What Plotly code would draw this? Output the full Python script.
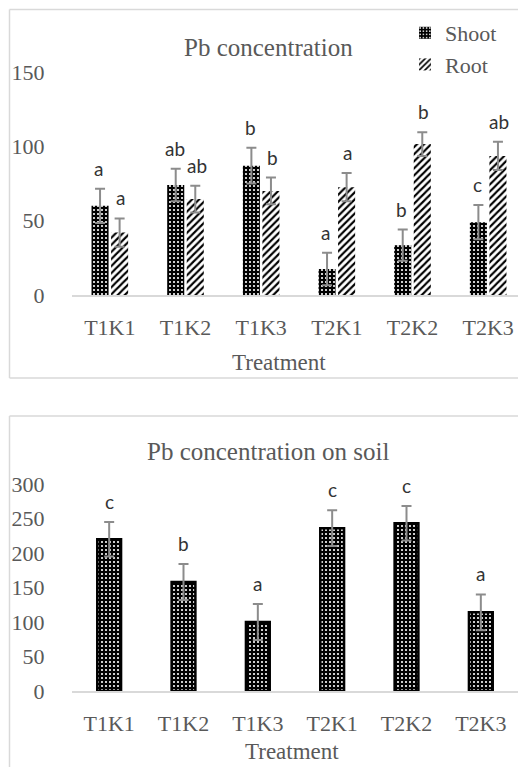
import plotly.graph_objects as go

categories = ["T1K1", "T1K2", "T1K3", "T2K1", "T2K2", "T2K3"]
shoot = [60, 74, 87, 17.5, 33.5, 49]
shoot_err = [11.5, 11, 12, 11, 10.5, 11.5]
shoot_letters = ["a", "ab", "b", "a", "b", "c"]
root = [42, 64.5, 70, 72.5, 101.5, 93.5]
root_err = [9.5, 9, 9, 9.5, 8, 9.5]
root_letters = ["a", "ab", "b", "a", "b", "ab"]

soil = [220, 158, 100, 236, 243, 114]
soil_err = [25, 26, 26, 26, 25, 26]
soil_letters = ["c", "b", "a", "c", "c", "a"]

OFF = 8
W, H = 526 - OFF, 767 - OFF
SERIF = "Liberation Serif"
SANS = "Lato"
TXT = "#595959"
ERR = "#8c8c8c"
BORDER = "#d9d9d9"

def px(x):
    return (x - OFF) / W

def py(y):
    return 1 - (y - OFF) / H

fig = go.Figure()

fig.add_trace(go.Bar(
    x=categories, y=shoot, name="Shoot", xaxis="x", yaxis="y", offsetgroup="s",
    marker=dict(color="black", line=dict(width=0),
                pattern=dict(shape=".", fgcolor="white", bgcolor="black", size=4, solidity=0.22)),
    error_y=dict(type="data", array=shoot_err, color=ERR, thickness=2, width=5),
))
fig.add_trace(go.Bar(
    x=categories, y=root, name="Root", xaxis="x", yaxis="y", offsetgroup="r",
    marker=dict(color="white", line=dict(width=0),
                pattern=dict(shape="/", fgcolor="black", bgcolor="white", size=5, solidity=0.42)),
    error_y=dict(type="data", array=root_err, color=ERR, thickness=2, width=5),
))
fig.add_trace(go.Bar(
    x=categories, y=soil, name="Soil", xaxis="x2", yaxis="y2", showlegend=False, width=0.32,
    marker=dict(color="black", line=dict(width=2.5, color="black"),
                pattern=dict(shape=".", fgcolor="white", bgcolor="black", size=4, solidity=0.22)),
    error_y=dict(type="data", array=soil_err, color=ERR, thickness=2, width=5),
))

LET = dict(family=SANS, size=19, color="#333333")
annotations = []
for i, c in enumerate(categories):
    annotations.append(dict(x=c, y=shoot[i] + shoot_err[i], xref="x", yref="y", text=shoot_letters[i],
                            showarrow=False, xshift=-11, xanchor="center", yanchor="bottom", yshift=7, font=LET))
    annotations.append(dict(x=c, y=root[i] + root_err[i], xref="x", yref="y", text=root_letters[i],
                            showarrow=False, xshift=11, xanchor="center", yanchor="bottom", yshift=7, font=LET))
    annotations.append(dict(x=c, y=soil[i] + soil_err[i], xref="x2", yref="y2", text=soil_letters[i],
                            showarrow=False, xanchor="center", yanchor="bottom", yshift=7, font=LET))

def lab(x, y, text, size):
    return dict(x=px(x), y=py(y), xref="paper", yref="paper", text=text, showarrow=False,
                xanchor="center", yanchor="middle", font=dict(family=SERIF, size=size, color=TXT))

annotations += [
    lab(268, 47, "Pb concentration", 25),
    lab(279, 362, "Treatment", 23),
    lab(268, 452, "Pb concentration on soil", 25),
    lab(292, 751, "Treatment", 23),
]

def seg(x0, y0, x1, y1):
    return dict(type="line", xref="paper", yref="paper", x0=px(x0), y0=py(y0), x1=px(x1), y1=py(y1),
                line=dict(color=BORDER, width=1.5))

shapes = [
    seg(9.5, 9.5, 540, 9.5), seg(9.5, 9.5, 9.5, 378), seg(9.5, 378, 540, 378),
    seg(9.5, 416, 540, 416), seg(9.5, 416, 9.5, 800),
]

xcommon = dict(showgrid=False, zeroline=False, showline=True, linecolor=BORDER, linewidth=1.5,
               ticks="outside", ticklen=12, tickcolor="rgba(0,0,0,0)", automargin=False,
               tickfont=dict(family=SERIF, size=22, color=TXT), fixedrange=True)
ycommon = dict(showgrid=False, zeroline=False, showline=False, automargin=False,
               ticks="outside", ticklen=22, tickcolor="rgba(0,0,0,0)",
               tickfont=dict(family=SERIF, size=22, color=TXT), fixedrange=True)

fig.update_layout(
    template="none",
    width=W, height=H, margin=dict(l=0, r=0, t=0, b=0, pad=0, autoexpand=False),
    paper_bgcolor="white", plot_bgcolor="white",
    barmode="group", bargap=0.483, bargroupgap=0.128,
    xaxis=dict(domain=[px(72), px(526)], anchor="y", **xcommon),
    yaxis=dict(domain=[py(295), py(72)], range=[0, 150], dtick=50, anchor="x", **ycommon),
    xaxis2=dict(domain=[px(72), px(518)], anchor="y2", **xcommon),
    yaxis2=dict(domain=[py(691), py(484)], range=[0, 300], dtick=50, anchor="x2", **ycommon),
    legend=dict(x=px(405), y=py(12), xanchor="left", yanchor="top", bgcolor="rgba(0,0,0,0)",
                font=dict(family=SERIF, size=22, color=TXT), tracegroupgap=0, itemwidth=30),
    annotations=annotations, shapes=shapes, showlegend=True,
)

fig.write_html("out.html")
